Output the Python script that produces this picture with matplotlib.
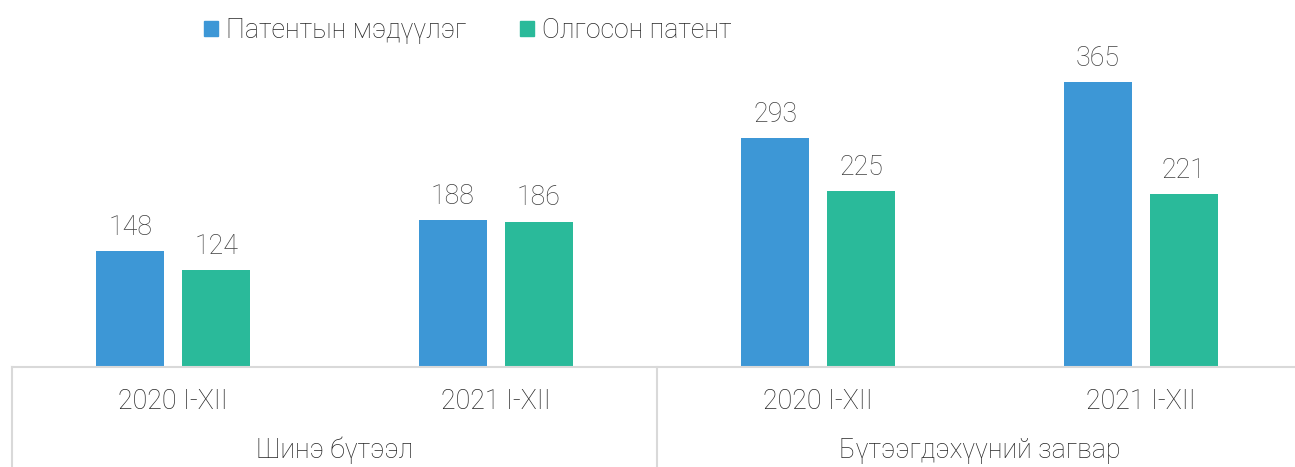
import matplotlib
matplotlib.use("Agg")
import matplotlib.pyplot as plt
from matplotlib.patches import Patch
from matplotlib.lines import Line2D
import numpy as np

# data
periods = ["2020 I-XII", "2021 I-XII", "2020 I-XII", "2021 I-XII"]
groups = ["Шинэ бүтээл", "Бүтээгдэхүүний загвар"]
series_names = ["Патентын мэдүүлэг", "Олгосон патент"]
applications = [148, 188, 293, 365]
granted = [124, 186, 225, 221]

blue = "#3d97d6"
green = "#2aba9a"
grid_c = "#d9d9d9"
fs = 19.3

plt.rcParams["font.family"] = ["Roboto", "DejaVu Sans"]

W, H = 1295, 467
fig = plt.figure(figsize=(W / 100, H / 100), dpi=100)
left, right, base = 12, 1302, 367
ax = fig.add_axes([left / W, (H - base) / H, (right - left) / W, base / H])

x = np.arange(len(periods))
bw = 0.211
off = 0.1335
b1 = ax.bar(x - off, applications, bw, color=blue)
b2 = ax.bar(x + off, granted, bw, color=green)

for bars in (b1, b2):
    for r in bars:
        ax.annotate(f"{int(r.get_height())}", (r.get_x() + r.get_width() / 2, r.get_height()),
                    xytext=(0, 7.5), textcoords="offset points", ha="center", va="bottom",
                    fontsize=fs, color="#404040", fontweight="light")

ax.set_xlim(-0.5, 3.5)
ax.set_ylim(0, 470)
for s in ["top", "right", "left"]:
    ax.spines[s].set_visible(False)
ax.spines["bottom"].set_color(grid_c)
ax.spines["bottom"].set_linewidth(1.5)
ax.set_xticks([])
ax.set_yticks([])

tr = ax.get_xaxis_transform()
for xi, lab in zip(x, periods):
    ax.text(xi, -0.093, lab, transform=tr, ha="center", va="center",
            fontsize=fs, color="#262626", fontweight="light")
for gi, g in enumerate(groups):
    ax.text(gi * 2 + 0.5, -0.228, g, transform=tr, ha="center", va="center",
            fontsize=fs, color="#262626", fontweight="light")
for xs in (-0.5, 1.5, 3.5):
    ax.add_line(Line2D([xs, xs], [0, -0.3], transform=tr, color=grid_c, lw=1.5, clip_on=False))

handles = [Patch(color=blue), Patch(color=green)]
fig.legend(handles, series_names, loc="center", bbox_to_anchor=(0.3614, 0.935), ncol=2,
           frameon=False, handlelength=0.52, handleheight=0.52, handletextpad=0.3,
           columnspacing=2.0, prop={"size": fs, "weight": "light"}, labelcolor="#262626")

fig.savefig("out.png", dpi=100)
